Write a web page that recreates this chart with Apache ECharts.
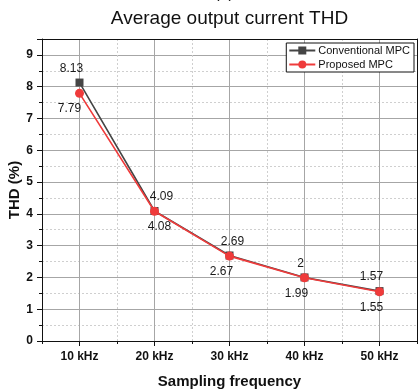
<!DOCTYPE html>
<html>
<head>
<meta charset="utf-8">
<script src="https://cdn.jsdelivr.net/npm/echarts@6/dist/echarts.min.js"></script>
<style>
  html, body { margin: 0; padding: 0; background: #fff; }
  #chart { width: 418px; height: 392px; }
</style>
</head>
<body>
<div id="chart"></div>
<script>
// Sampling frequencies on the x axis
const categories = ['10 kHz', '20 kHz', '30 kHz', '40 kHz', '50 kHz'];
// Average output current THD (%) for each controller
const conventionalMPC = [8.13, 4.09, 2.69, 2.00, 1.57];
const proposedMPC = [7.79, 4.08, 2.67, 1.99, 1.55];
// Value-label text for each point
const conventionalLabels = ['8.13', '4.09', '2.69', '2', '1.57'];
const proposedLabels = ['7.79', '4.08', '2.67', '1.99', '1.55'];
// Y axis tick labels
const yTicks = [0, 1, 2, 3, 4, 5, 6, 7, 8, 9];

// small horizontal nudges for the value labels so they do not collide
const convNudge = [-8, 7, 3, -4, -8];
const propNudge = [-10, 5, -8, -8, -8];

const FONT = '"Liberation Sans", Arial, sans-serif';
const YMAX = 9.5;

// helper axis with a slot at every category centre and boundary
const halfSlots = [];
for (let i = 0; i <= categories.length * 2; i++) halfSlots.push('');

const chart = echarts.init(document.getElementById('chart'), null, { renderer: 'canvas' });

function buildSeries(name, values, labels, nudge, color, symbol, size, pos, dist) {
  return {
    name: name,
    type: 'line',
    xAxisIndex: 0,
    yAxisIndex: 0,
    symbol: symbol,
    symbolSize: size,
    z: pos === 'top' ? 3 : 4,
    lineStyle: { color: color, width: 1.6 },
    itemStyle: { color: color },
    data: values.map((v, i) => ({
      value: v,
      label: {
        show: true,
        position: pos,
        distance: dist,
        offset: [nudge[i], 0],
        formatter: labels[i],
        color: '#1a1a1a',
        fontSize: 12,
        fontFamily: FONT
      }
    }))
  };
}

chart.setOption({
  animation: false,
  textStyle: { fontFamily: FONT },
  graphic: [
    {
      type: 'text', x: 229.5, y: 19,
      style: { text: 'Average output current THD', font: '19px ' + FONT, fill: '#111', textAlign: 'center', textVerticalAlign: 'middle' }
    },
    {
      type: 'text', x: 224, y: -6,
      style: { text: '(a)', font: '16px ' + FONT, fill: '#111', textAlign: 'center', textVerticalAlign: 'middle' }
    }
  ],
  legend: {
    orient: 'vertical',
    right: 4,
    top: 43,
    itemWidth: 26,
    itemHeight: 10,
    itemGap: 3,
    padding: [2, 4, 2, 2],
    backgroundColor: '#fff',
    borderColor: '#111',
    borderWidth: 1,
    borderRadius: 0,
    textStyle: { fontSize: 11, color: '#111', fontFamily: FONT, padding: [0, 0, 0, -2] },
    data: ['Conventional MPC', 'Proposed MPC']
  },
  grid: { left: 42, right: 1, top: 39, bottom: 51, containLabel: false, outerBoundsMode: 'none' },
  xAxis: [
    {
      type: 'category',
      data: categories,
      position: 'bottom',
      boundaryGap: true,
      name: 'Sampling frequency',
      nameLocation: 'middle',
      nameGap: 33,
      nameTextStyle: { fontSize: 15, fontWeight: 'bold', color: '#111', fontFamily: FONT },
      axisLine: { lineStyle: { color: '#111', width: 1 } },
      axisTick: { show: true, length: 3, lineStyle: { color: '#111' } },
      axisLabel: { fontSize: 12, fontWeight: 'bold', color: '#111', margin: 10, fontFamily: FONT },
      splitLine: { show: true, lineStyle: { color: '#cfcfcf', type: [2, 2], width: 1 } }
    },
    {
      type: 'category',
      data: halfSlots,
      position: 'bottom',
      boundaryGap: false,
      axisLine: { show: false },
      axisLabel: { show: false },
      axisTick: { show: true, length: 5, interval: (i) => i % 2 === 1, lineStyle: { color: '#111' } },
      splitLine: { show: true, interval: (i) => i % 2 === 1, lineStyle: { color: '#a6a6a6', width: 1 } }
    },
    {
      type: 'category',
      data: categories,
      position: 'top',
      boundaryGap: true,
      axisLine: { show: true, lineStyle: { color: '#111', width: 1 } },
      axisTick: { show: false },
      axisLabel: { show: false },
      splitLine: { show: false }
    }
  ],
  yAxis: [
    {
      type: 'value',
      min: 0,
      max: YMAX,
      interval: 1,
      position: 'left',
      name: 'THD (%)',
      nameLocation: 'middle',
      nameGap: 20,
      nameMoveOverlap: false,
      nameTextStyle: { fontSize: 15, fontWeight: 'bold', color: '#111', fontFamily: FONT },
      axisLine: { show: true, lineStyle: { color: '#111', width: 1 } },
      axisTick: { show: true, length: 5, lineStyle: { color: '#111' } },
      minorTick: { show: true, splitNumber: 2, length: 3, lineStyle: { color: '#111' } },
      axisLabel: {
        fontSize: 12, fontWeight: 'bold', color: '#111', margin: 9, fontFamily: FONT,
        formatter: (v) => (yTicks.indexOf(v) >= 0 ? String(v) : '')
      },
      splitLine: { show: true, lineStyle: { color: '#a6a6a6', width: 1 } },
      minorSplitLine: { show: true, lineStyle: { color: '#cfcfcf', type: [2, 2], width: 1 } }
    },
    {
      type: 'value',
      min: 0,
      max: YMAX,
      interval: 1,
      position: 'right',
      axisLine: { show: true, lineStyle: { color: '#111', width: 1 } },
      axisTick: { show: false },
      axisLabel: { show: false },
      splitLine: { show: false }
    }
  ],
  series: [
    buildSeries('Conventional MPC', conventionalMPC, conventionalLabels, convNudge, '#454545', 'rect', 8, 'top', 4),
    buildSeries('Proposed MPC', proposedMPC, proposedLabels, propNudge, '#ef3b3b', 'circle', 9, 'bottom', 5)
  ]
});
</script>
</body>
</html>
